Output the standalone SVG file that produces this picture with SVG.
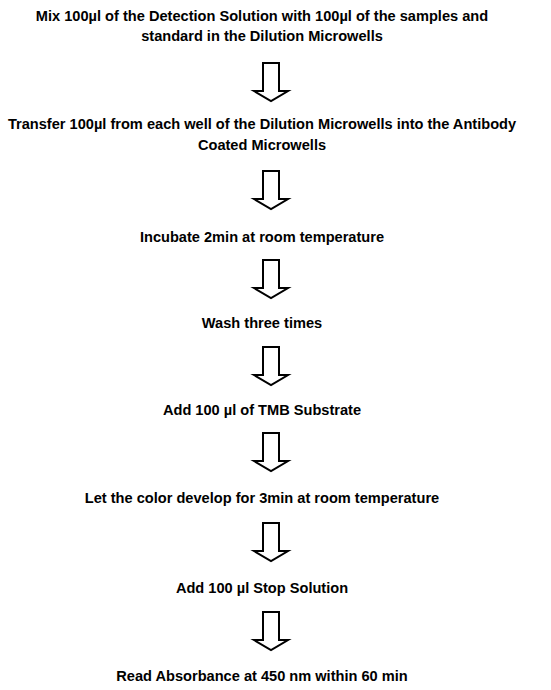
<svg xmlns="http://www.w3.org/2000/svg" width="551" height="690" viewBox="0 0 551 690">
<style>
text{font-family:"Liberation Sans",Arial,sans-serif;font-weight:bold;font-size:14.6px;fill:#000;text-anchor:middle}
.arr{fill:#fff;stroke:#000;stroke-width:2;stroke-linejoin:miter}
</style>
<defs>
<path id="a" class="arr" d="M263,0 V28 H254 L271,38 L288,28 H279 V0 Z"/>
</defs>
<rect width="551" height="690" fill="#fff"/>
<g id="n1"><text x="262" y="21">Mix 100µl of the Detection Solution with 100µl of the samples and</text><text x="262" y="41">standard in the Dilution Microwells</text></g>
<g id="n2"><text x="262" y="129">Transfer 100µl from each well of the Dilution Microwells into the Antibody</text><text x="262" y="150">Coated Microwells</text></g>
<g id="n3"><text x="262" y="242">Incubate 2min at room temperature</text></g>
<g id="n4"><text x="262" y="328">Wash three times</text></g>
<g id="n5"><text x="262" y="415">Add 100 µl of TMB Substrate</text></g>
<g id="n6"><text x="262" y="503">Let the color develop for 3min at room temperature</text></g>
<g id="n7"><text x="262" y="593">Add 100 µl Stop Solution</text></g>
<g id="n8"><text x="262" y="681">Read Absorbance at 450 nm within 60 min</text></g>
<g id="connectors">
<use href="#a" y="63"/>
<use href="#a" y="171"/>
<use href="#a" y="260"/>
<use href="#a" y="347"/>
<use href="#a" y="433"/>
<use href="#a" y="523"/>
<use href="#a" y="612"/>
</g>
</svg>
